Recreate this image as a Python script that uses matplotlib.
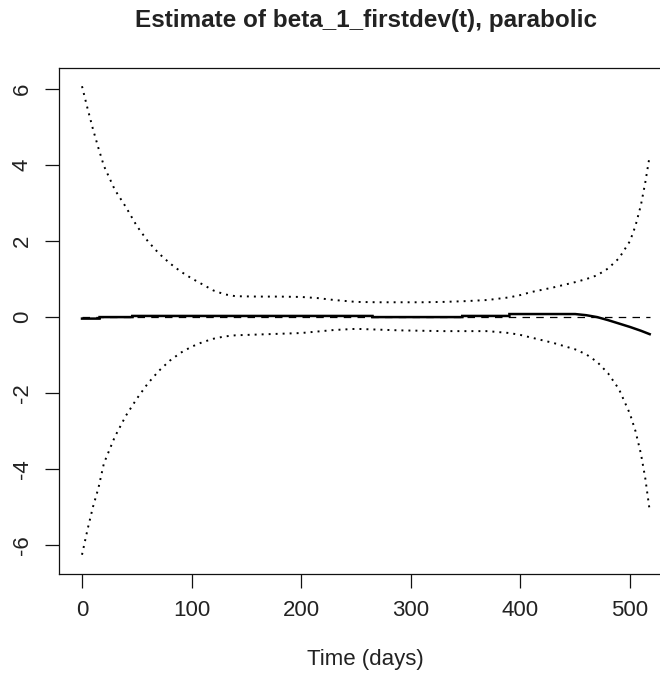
import matplotlib
matplotlib.use("Agg")
import matplotlib.pyplot as plt

plt.rcParams['font.family'] = ['Liberation Sans', 'DejaVu Sans']

# ---- data ----
band_days = [0, 5, 10, 15, 20, 30, 40, 50, 60, 70, 80, 90, 100, 110, 120, 130, 140,
             160, 180, 200, 215, 230, 250, 270, 290, 310, 330, 350, 370, 390, 400,
             410, 430, 450, 460, 470, 480, 490, 500, 505, 510, 514, 518]
upper_band = [6.08, 5.5, 4.95, 4.45, 3.98, 3.35, 2.9, 2.4, 2.0, 1.68, 1.42, 1.2, 1.02,
              0.86, 0.7, 0.6, 0.55, 0.54, 0.54, 0.53, 0.5, 0.45, 0.40, 0.39, 0.39,
              0.39, 0.4, 0.42, 0.45, 0.52, 0.58, 0.66, 0.78, 0.92, 1.0, 1.1, 1.28,
              1.55, 2.0, 2.4, 2.95, 3.55, 4.25]
lower_band = [-6.26, -5.6, -5.0, -4.5, -3.85, -3.15, -2.6, -2.15, -1.75, -1.42, -1.15,
              -0.94, -0.78, -0.66, -0.57, -0.51, -0.48, -0.46, -0.44, -0.42, -0.38,
              -0.34, -0.31, -0.33, -0.35, -0.36, -0.37, -0.37, -0.37, -0.42, -0.47,
              -0.54, -0.68, -0.85, -0.98, -1.18, -1.48, -1.9, -2.55, -3.0, -3.6,
              -4.25, -5.1]

est_days = [0, 16, 16, 46, 46, 265, 265, 347, 347, 390, 390, 450, 460, 470, 480,
            490, 500, 510, 518]
estimate = [-0.04, -0.04, 0.0, 0.0, 0.03, 0.03, 0.0, 0.0, 0.03, 0.03, 0.08, 0.08,
            0.05, 0.0, -0.08, -0.17, -0.26, -0.36, -0.45]

zero_days = [0, 518]
zero_line = [0, 0]

x_ticks = [0, 100, 200, 300, 400, 500]
y_ticks = [-6, -4, -2, 0, 2, 4, 6]
title = "Estimate of beta_1_firstdev(t), parabolic"
xlabel = "Time (days)"

# ---- figure ----
W, H = 660, 673
fig = plt.figure(figsize=(W / 100, H / 100), dpi=100)
left, right, top, bottom = 59.3, 672.4, 67.5, 573.5
ax = fig.add_axes([left / W, 1 - bottom / H, (right - left) / W, (bottom - top) / H])

dots = (0, (1, 2.6))
ax.plot(band_days, upper_band, color='black', lw=1.4, linestyle=dots)
ax.plot(band_days, lower_band, color='black', lw=1.4, linestyle=dots)
ax.plot(zero_days, zero_line, color='black', lw=0.9, linestyle=(0, (6, 5)))
ax.plot(est_days, estimate, color='black', lw=1.8, solid_joinstyle='miter')

# R default: data range extended by 4 % on each side
xr = max(band_days) - min(band_days)
ax.set_xlim(min(band_days) - 0.04 * xr, max(band_days) + 0.04 * xr)
ymin, ymax = min(lower_band), max(upper_band)
yr = ymax - ymin
ax.set_ylim(ymin - 0.04 * yr, ymax + 0.04 * yr)

ax.set_xticks(x_ticks)
ax.set_yticks(y_ticks)
ax.set_xticklabels([str(v) for v in x_ticks])
ax.set_yticklabels([str(v) for v in y_ticks], rotation=90, va='center')

for s in ax.spines.values():
    s.set_linewidth(0.9)
    s.set_color('#111111')
ax.tick_params(direction='out', length=10, width=0.9, color='#111111',
               labelsize=16, labelcolor='#222222', pad=9)

cx = (left + right) / 2 / W
fig.text(cx, 1 - 27 / H, title, ha='center', va='baseline',
         fontsize=17.5, fontweight='bold', color='#222222')
fig.text(cx, 1 - 665 / H, xlabel, ha='center', va='baseline',
         fontsize=16, color='#222222')

fig.savefig('out.png', dpi=100)
